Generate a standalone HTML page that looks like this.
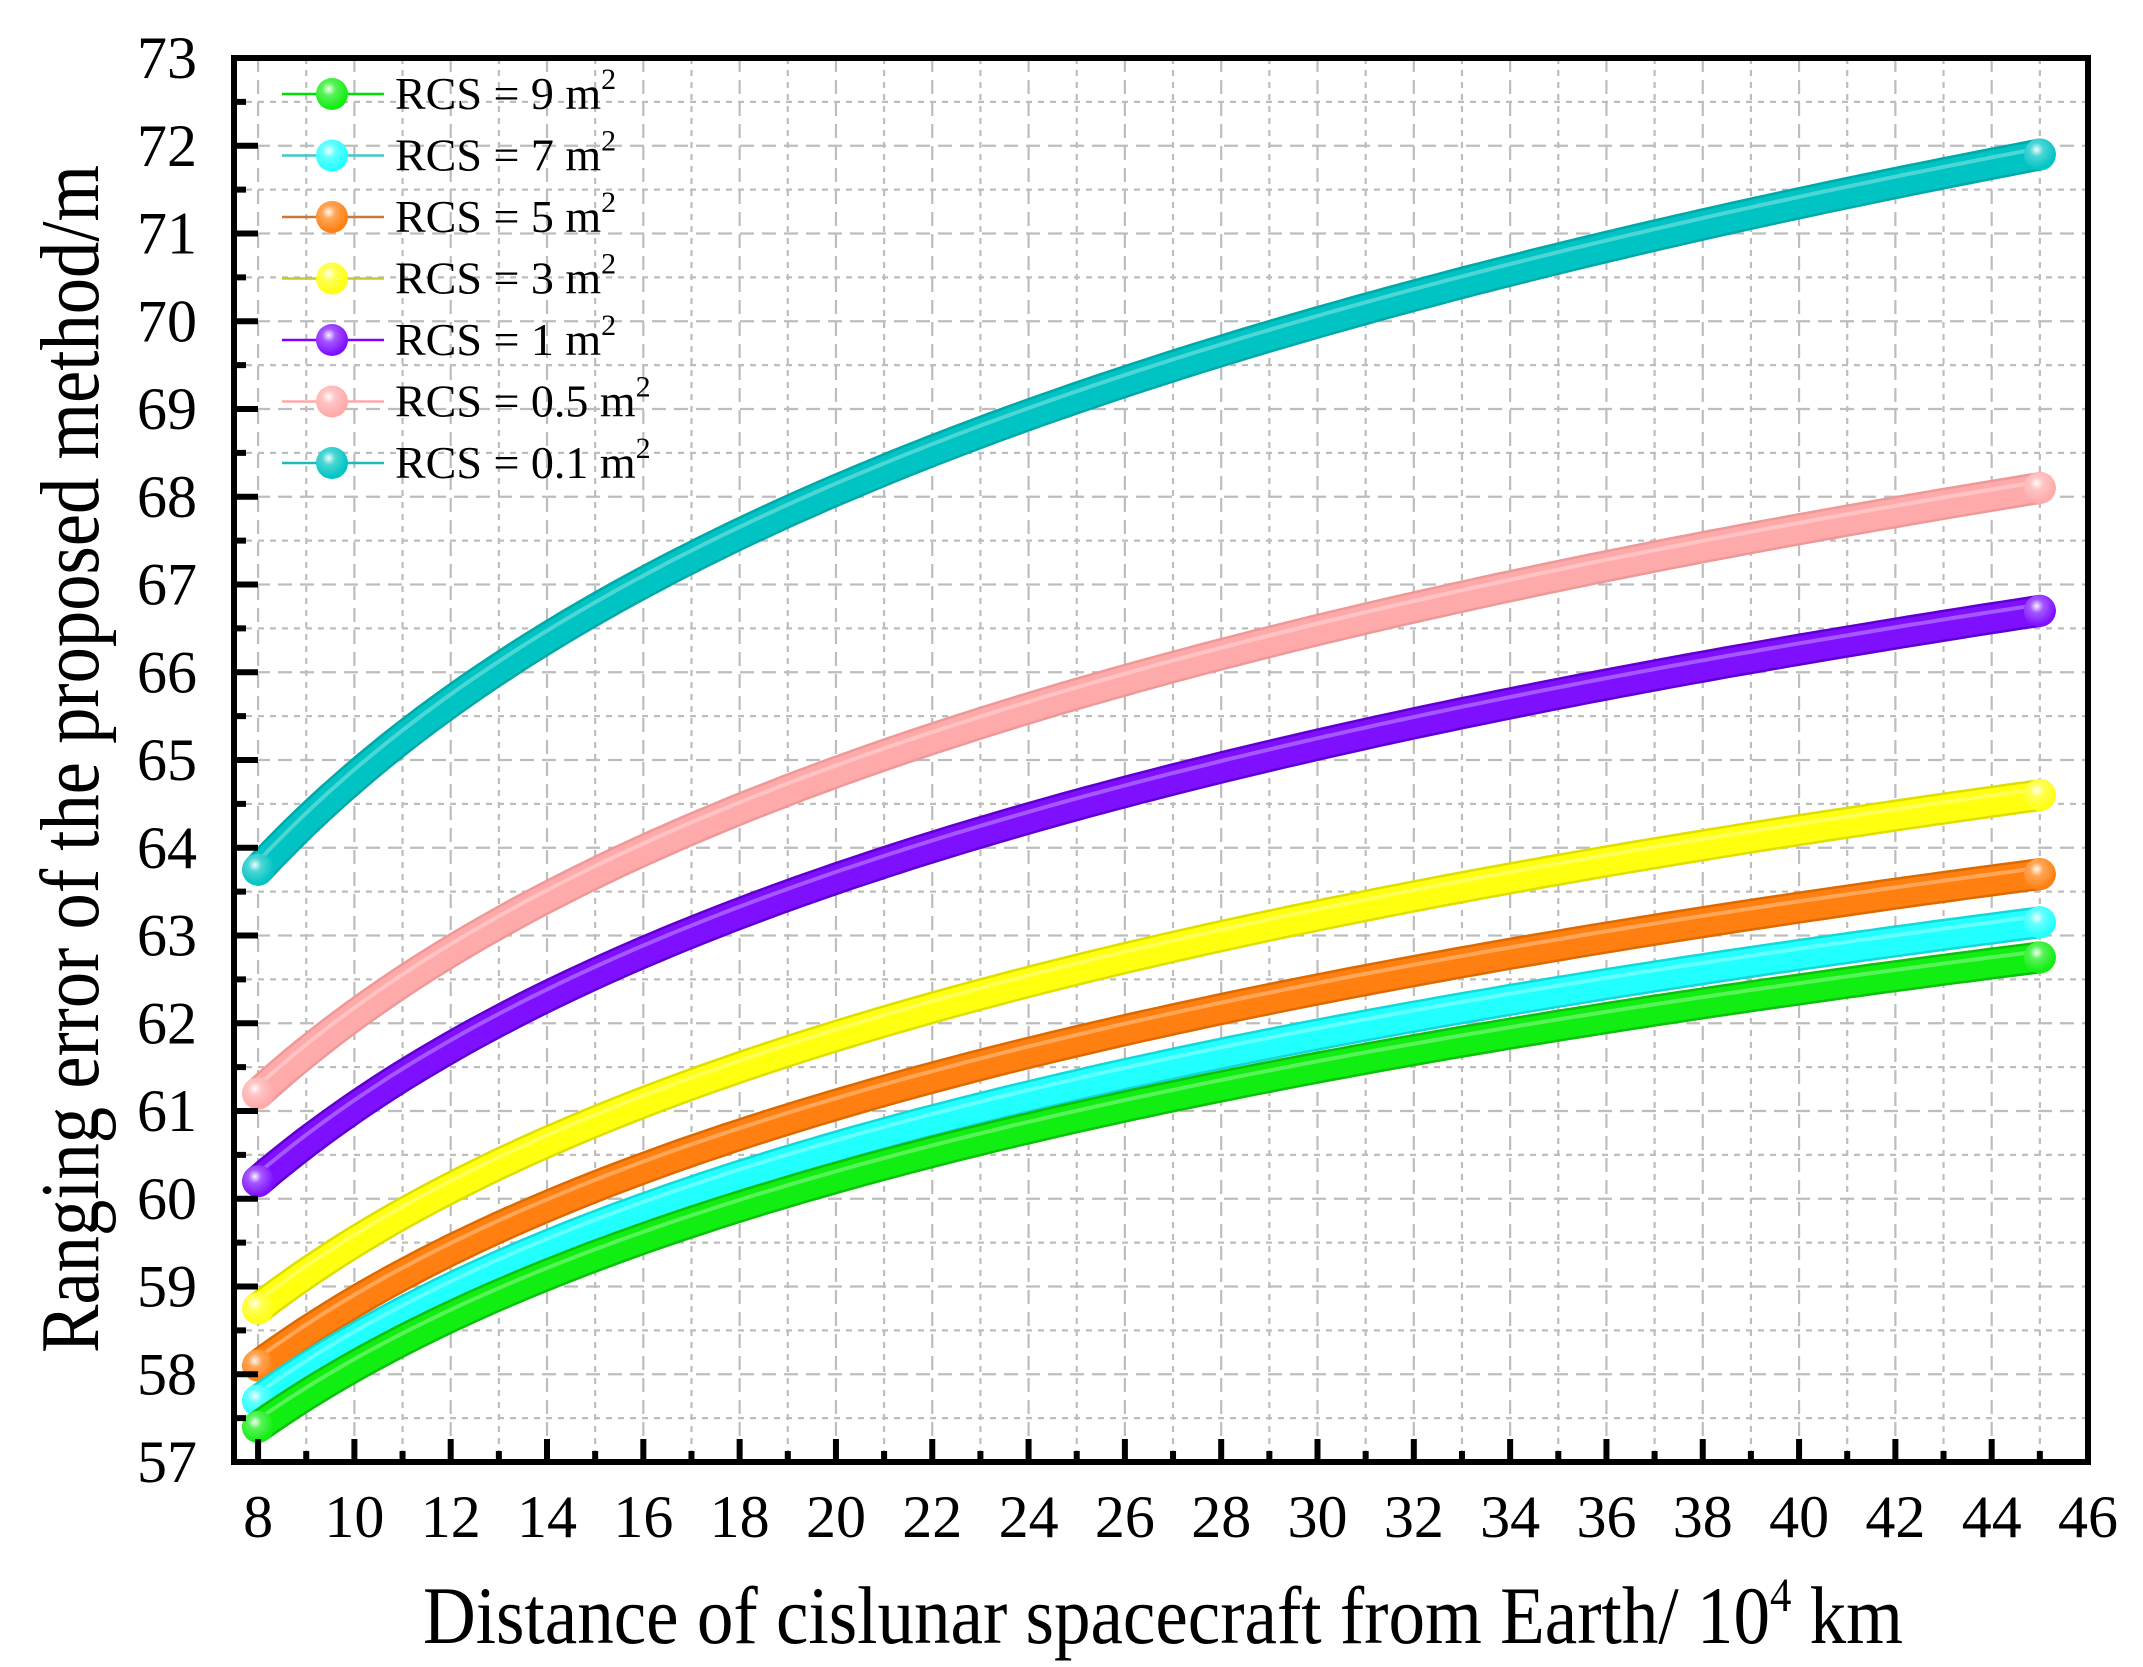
<!DOCTYPE html>
<html><head><meta charset="utf-8"><style>
html,body{margin:0;padding:0;background:#fff;}
svg{display:block;font-family:"Liberation Serif","Times New Roman",serif;}
</style></head><body>
<svg id="s" width="2143" height="1667" viewBox="0 0 2143 1667" xmlns="http://www.w3.org/2000/svg">
<defs>
<radialGradient id="hl" cx="0.4" cy="0.35" r="0.6">
<stop offset="0" stop-color="#fff" stop-opacity="0.95"/>
<stop offset="0.35" stop-color="#fff" stop-opacity="0.3"/>
<stop offset="1" stop-color="#fff" stop-opacity="0"/>
</radialGradient>
</defs>
<g id="grid"></g>
<g id="curves"></g>
<g id="legend"></g>
<rect x="234" y="58" width="1854" height="1404" fill="none" stroke="#000" stroke-width="6"/>
<g id="ticks"></g>
<g id="labels" font-size="60" fill="#000"></g>
<text x="0" y="0" font-size="84" transform="translate(98,759) rotate(-90)" text-anchor="middle" textLength="1188" lengthAdjust="spacingAndGlyphs">Ranging error of the proposed method/m</text>
<text x="423" y="1643" font-size="82" textLength="1480" lengthAdjust="spacingAndGlyphs">Distance of cislunar spacecraft from Earth/ 10<tspan dy="-32" font-size="48">4</tspan><tspan dy="32"> km</tspan></text>
</svg>
<script>
const NS="http://www.w3.org/2000/svg";
const X0=234,X1=2088,Y0=58,Y1=1462;
const xs=v=>X0+(v-7.5)*(X1-X0)/38.5;
const ys=v=>Y1-(v-57)*(Y1-Y0)/16;
function el(t,a,p){const e=document.createElementNS(NS,t);for(const k in a)e.setAttribute(k,a[k]);p.appendChild(e);return e;}
const g=document.getElementById('grid'),tk=document.getElementById('ticks'),lb=document.getElementById('labels');
for(let v=8;v<=45;v++){el('line',{x1:xs(v),x2:xs(v),y1:Y0,y2:Y1,stroke:'#bdbdbd','stroke-width':2.2,'stroke-dasharray':v%2?'6 6':'14 8'},g);}
for(let v=57.5;v<73;v+=0.5){el('line',{x1:X0,x2:X1,y1:ys(v),y2:ys(v),stroke:'#bdbdbd','stroke-width':2.2,'stroke-dasharray':(v%1)?'6 6':'14 8'},g);}
for(let v=8;v<=46;v++){const maj=v%2==0;el('line',{x1:xs(v),x2:xs(v),y1:Y1,y2:Y1-(maj?23:11),stroke:'#000','stroke-width':6},tk);
 if(maj){const t=el('text',{x:xs(v),y:1537,'text-anchor':'middle'},lb);t.textContent=v;}}
for(let v=57;v<=73;v+=0.5){const maj=v%1==0;el('line',{x1:X0,x2:X0+(maj?24:12),y1:ys(v),y2:ys(v),stroke:'#000','stroke-width':6},tk);
 if(maj){const t=el('text',{x:197,y:ys(v)+20,'text-anchor':'end'},lb);t.textContent=v;}}
const S=[
 ['9',57.4,62.75,'#11ee11','#0cc00c','#00dd00'],
 ['7',57.7,63.15,'#22ffff','#14d8d8','#40c8c8'],
 ['5',58.1,63.7,'#ff8010','#dd6a00','#c8783c'],
 ['3',58.75,64.6,'#ffff10','#dede00','#c8c830'],
 ['1',60.2,66.7,'#7f10ff','#6000d0','#8000ff'],
 ['0.5',61.2,68.1,'#ffaaaa','#ee9898','#ffa8a8'],
 ['0.1',63.75,71.9,'#00c4c4','#00a8a8','#20b8b8']];
const cg=document.getElementById('curves'),lg=document.getElementById('legend');
const L=Math.log(45/8);
for(let i=S.length-1;i>=0;i--){const [n,a,b,c,d]=S[i];const k=(b-a)/L;let p='';
 for(let x=8;x<=45.001;x+=0.25){const y=a+k*Math.log(x/8);p+=(p?'L':'M')+xs(x).toFixed(1)+' '+ys(y).toFixed(1);}
 el('path',{d:p,fill:'none',stroke:d,'stroke-width':32,'stroke-linecap':'round'},cg);
 el('path',{d:p,fill:'none',stroke:c,'stroke-width':27,'stroke-linecap':'round'},cg);
 el('path',{d:p,fill:'none',stroke:'#fff','stroke-opacity':0.3,'stroke-width':4,transform:'translate(-2,-6)','stroke-linecap':'round'},cg);
 for(const x of [8,45]){const y=ys(a+k*Math.log(x/8));el('circle',{cx:xs(x),cy:y,r:16,fill:c},cg);el('circle',{cx:xs(x),cy:y,r:16,fill:'url(#hl)'},cg);}
}
S.forEach((s,i)=>{const y=94+i*61.5;
 el('line',{x1:282,x2:384,y1:y,y2:y,stroke:s[5],'stroke-width':2.5},lg);
 el('circle',{cx:332,cy:y,r:16,fill:s[3]},lg);el('circle',{cx:332,cy:y,r:16,fill:'url(#hl)'},lg);
 const t=el('text',{x:395,y:y+15,'font-size':46},lg);
 t.innerHTML='RCS = '+s[0]+' m<tspan dy="-20" font-size="30">2</tspan>';
});
</script>
</body></html>
